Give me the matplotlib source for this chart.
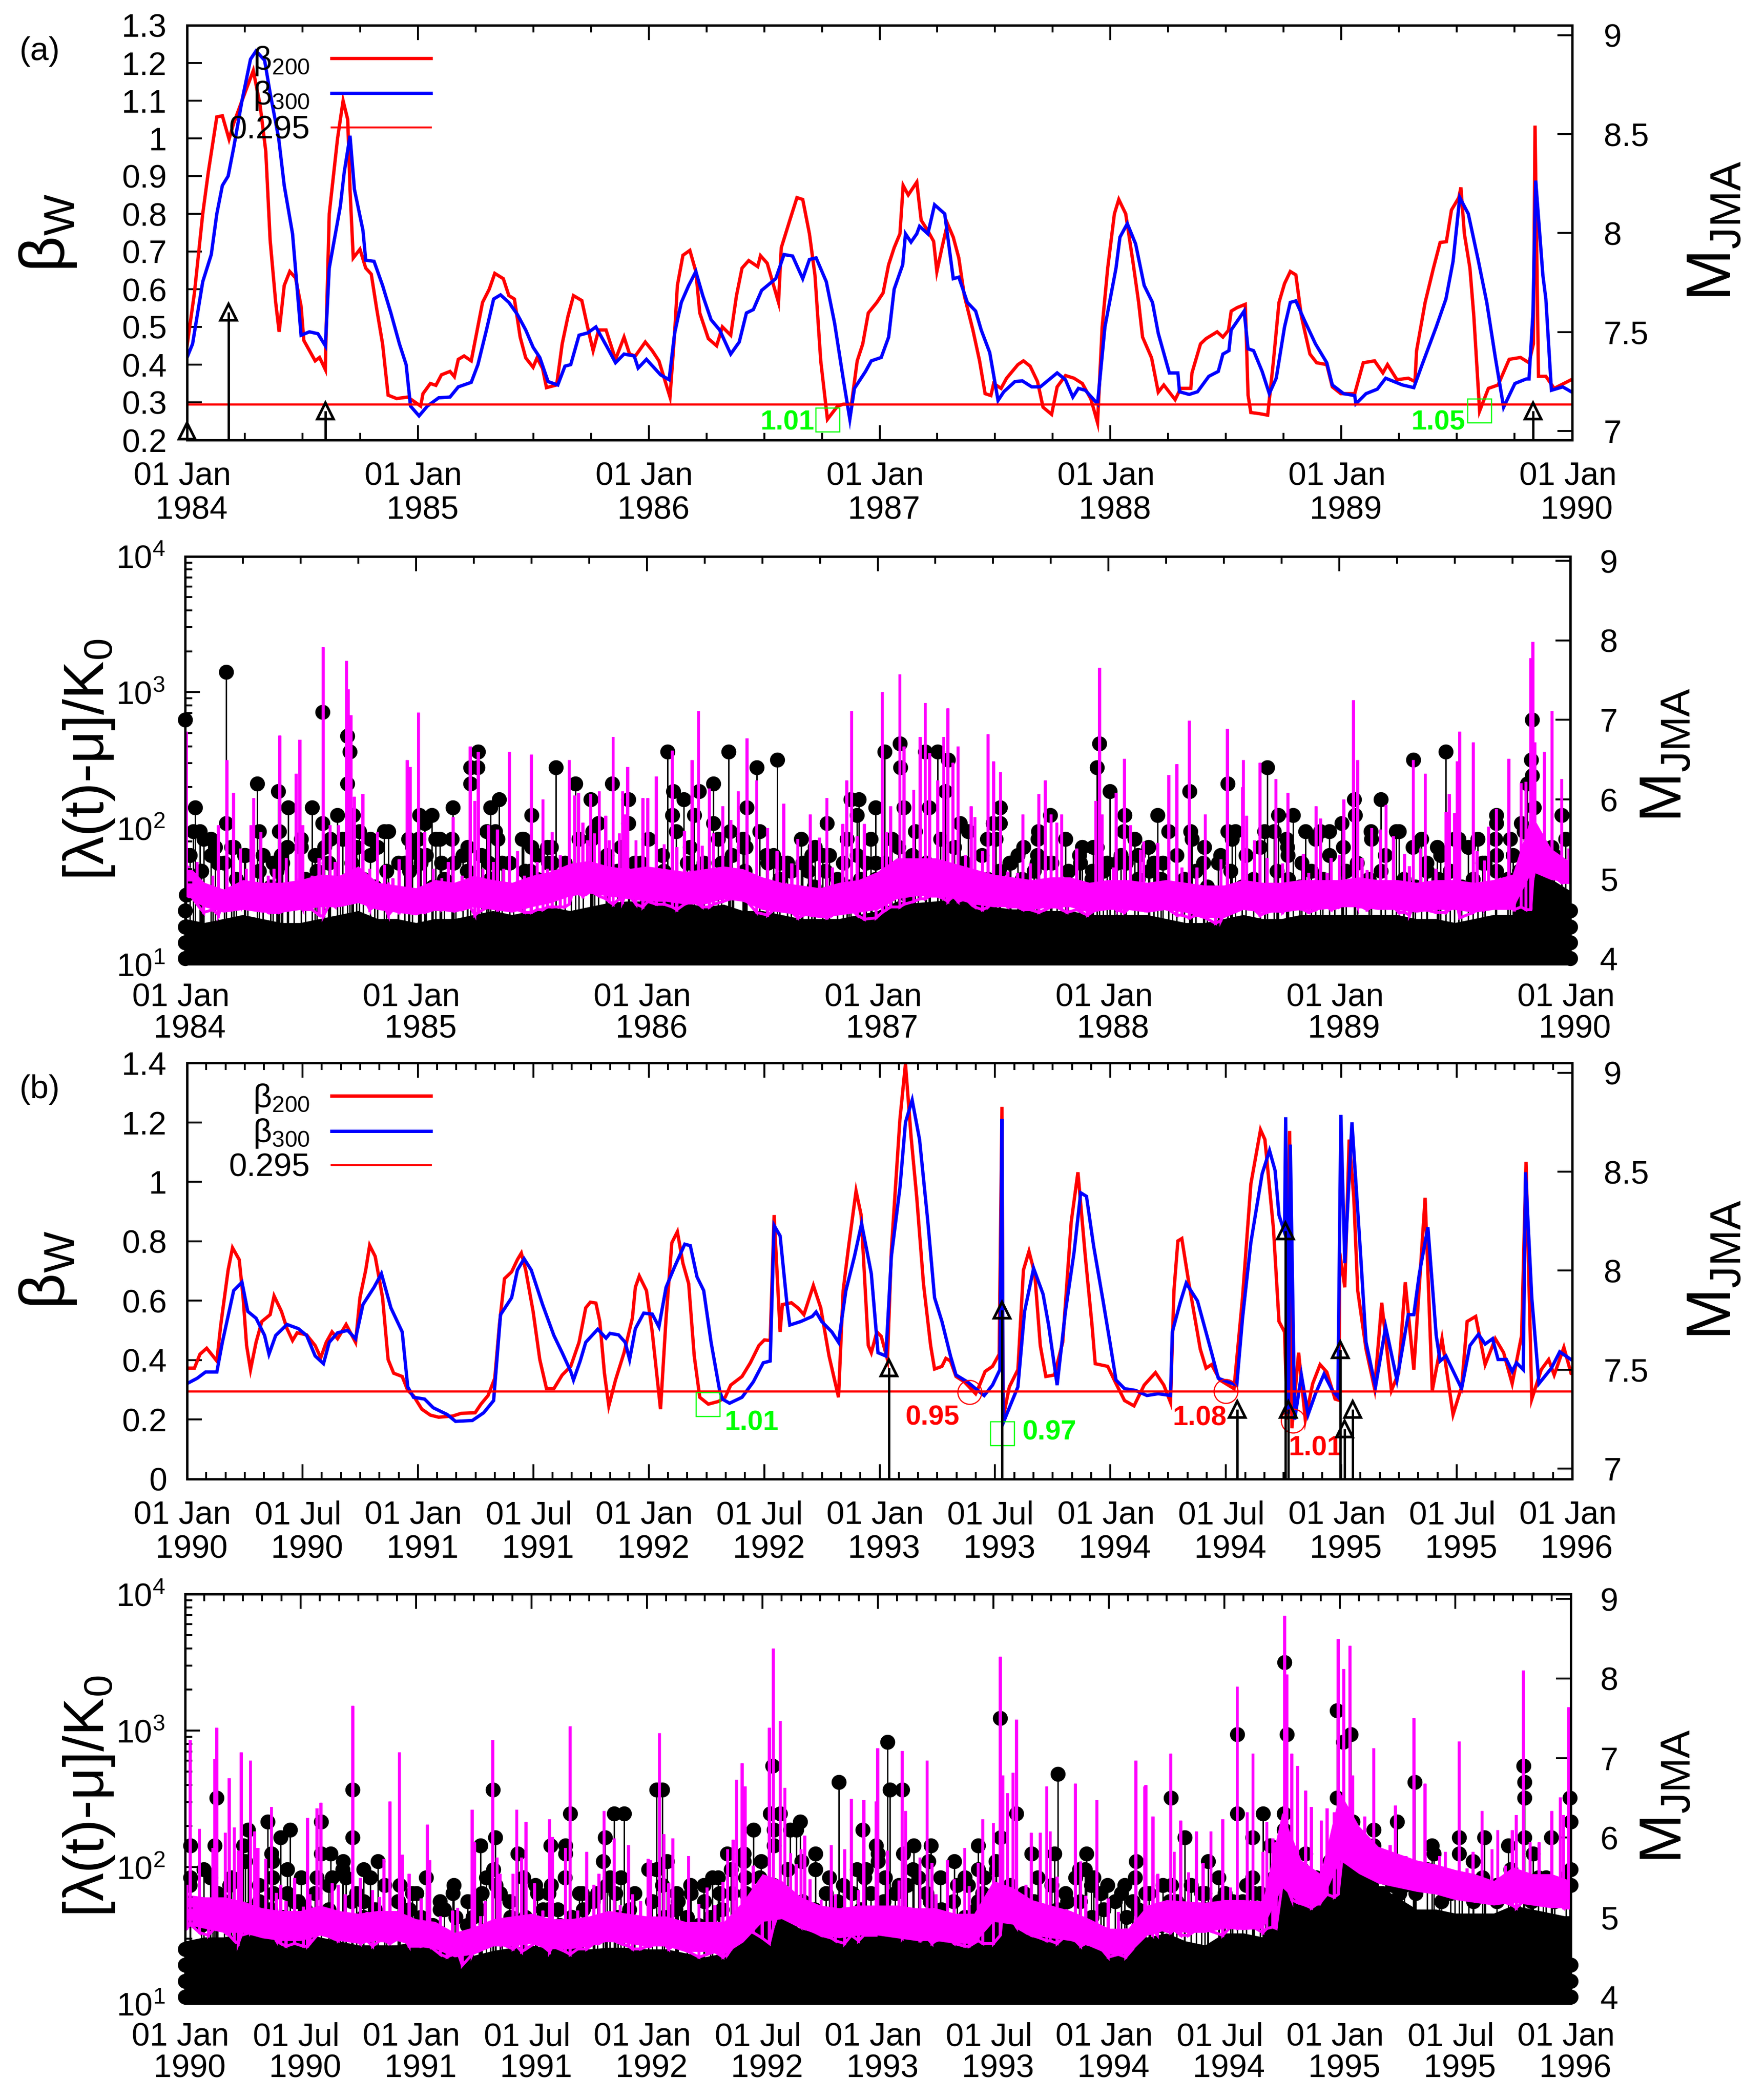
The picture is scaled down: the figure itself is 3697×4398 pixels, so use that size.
import numpy as np
import matplotlib
matplotlib.use("Agg")
import matplotlib.pyplot as plt
from matplotlib.lines import Line2D
from matplotlib.ticker import NullFormatter, LogLocator

plt.rcParams['font.family'] = ['Liberation Sans', 'DejaVu Sans']
plt.rcParams['mathtext.fontset'] = 'custom'
plt.rcParams['mathtext.rm'] = 'Liberation Sans'
plt.rcParams['mathtext.it'] = 'Liberation Sans:italic'
plt.rcParams['mathtext.bf'] = 'Liberation Sans:bold'
plt.rcParams['mathtext.default'] = 'rm'

RED, BLUE, MAGENTA, GREEN = '#ff0000', '#0000ff', '#ff00ff', '#00ff00'
THRESHOLD = 0.295

# beta series: (years since start of the panel, beta)
a_red = [(0,.45),(.032,.59),(.068,.8),(.092,.91),(.129,1.057),(.153,1.06),(.182,.998),(.202,1.04),(.238,1.1),(.287,1.18),(.316,1.09),(.341,.966),(.36,.73),(.384,.565),(.399,.487),(.421,.61),(.445,.647),(.47,.63),(.494,.555),(.506,.464),(.555,.41),(.574,.419),(.599,.387),(.601,.45),(.616,.8),(.652,1.0),(.676,1.1),(.696,1.05),(.706,.865),(.72,.683),(.749,.706),(.774,.656),(.798,.64),(.822,.546),(.847,.455),(.871,.319),(.908,.31),(.956,.314),(1.012,.29),(1.022,.323),(1.054,.35),(1.078,.345),(1.102,.373),(1.139,.382),(1.158,.368),(1.175,.414),(1.2,.423),(1.231,.41),(1.248,.464),(1.28,.565),(1.309,.6),(1.333,.642),(1.37,.628),(1.394,.583),(1.418,.574),(1.443,.473),(1.467,.418),(1.499,.393),(1.516,.418),(1.54,.39),(1.557,.339),(1.601,.346),(1.625,.455),(1.65,.528),(1.674,.583),(1.71,.57),(1.735,.5),(1.759,.437),(1.783,.492),(1.815,.492),(1.856,.414),(1.893,.473),(1.917,.428),(1.942,.423),(1.985,.46),(2.015,.437),(2.044,.41),(2.092,.314),(2.112,.483),(2.124,.61),(2.148,.69),(2.178,.703),(2.204,.647),(2.221,.537),(2.258,.469),(2.294,.45),(2.319,.5),(2.355,.478),(2.38,.583),(2.404,.656),(2.433,.676),(2.472,.66),(2.484,.689),(2.513,.669),(2.562,.565),(2.574,.71),(2.611,.783),(2.642,.843),(2.667,.838),(2.696,.747),(2.72,.637),(2.745,.41),(2.774,.255),(2.818,.29),(2.842,.295),(2.878,.295),(2.903,.41),(2.927,.455),(2.951,.537),(2.988,.565),
(3.015,.59),(3.039,.665),(3.063,.71),(3.088,.747),(3.102,.875),(3.124,.85),(3.161,.884),(3.18,.783),(3.209,.755),(3.234,.727),(3.248,.647),(3.27,.71),(3.294,.774),(3.319,.738),(3.343,.683),(3.367,.583),(3.404,.492),(3.433,.41),(3.457,.323),(3.482,.318),(3.494,.35),(3.526,.337),(3.55,.364),(3.599,.4),(3.623,.41),(3.652,.396),(3.684,.355),(3.708,.287),(3.745,.268),(3.769,.341),(3.805,.371),(3.842,.364),(3.878,.35),(3.915,.309),(3.944,.246),(3.964,.5),(3.988,.656),(4.017,.8),(4.036,.838),(4.066,.8),(4.097,.674),(4.122,.565),(4.139,.473),(4.178,.418),(4.207,.327),(4.231,.346),(4.28,.307),(4.304,.337),(4.348,.337),(4.353,.378),(4.39,.455),(4.414,.469),(4.462,.487),(4.487,.473),(4.511,.491),(4.523,.542),(4.548,.551),(4.584,.56),(4.596,.319),(4.608,.273),(4.645,.27),(4.681,.266),(4.706,.41),(4.73,.565),(4.754,.615),(4.779,.647),(4.803,.638),(4.827,.528),(4.864,.428),(4.893,.405),(4.937,.4),(4.961,.341),(4.998,.323),(5.058,.323),(5.095,.405),(5.144,.41),(5.18,.378),(5.2,.4),(5.241,.36),(5.29,.364),(5.319,.355),(5.326,.437),(5.363,.565),(5.399,.656),(5.428,.724),(5.455,.726),(5.477,.81),(5.509,.843),(5.518,.87),(5.533,.747),(5.557,.656),(5.574,.528),(5.599,.277),(5.637,.337),(5.679,.346),(5.727,.414),(5.776,.419),(5.813,.405),(5.832,.455),(5.839,1.034),(5.854,.369),(5.886,.369),(5.922,.337),(5.996,.36)]
a_blue = [(0,.419),(.024,.455),(.068,.62),(.105,.692),(.129,.8),(.153,.875),(.178,.9),(.202,.975),(.238,1.1),(.275,1.21),(.299,1.232),(.336,1.207),(.36,1.12),(.397,1.0),(.421,.875),(.457,.747),(.482,.565),(.494,.478),(.53,.487),(.567,.482),(.599,.45),(.616,.656),(.664,.82),(.681,.911),(.706,1.007),(.725,.865),(.762,.756),(.774,.677),(.81,.674),(.847,.61),(.883,.537),(.92,.455),(.949,.4),(.968,.29),(1.005,.264),(1.041,.29),(1.09,.312),(1.139,.314),(1.175,.341),(1.231,.353),(1.26,.4),(1.297,.492),(1.328,.574),(1.358,.585),(1.394,.565),(1.431,.533),(1.467,.492),(1.499,.446),(1.528,.419),(1.564,.355),(1.606,.346),(1.637,.396),(1.662,.4),(1.698,.478),(1.735,.484),(1.771,.5),(1.82,.446),(1.856,.405),(1.893,.428),(1.937,.423),(1.954,.391),(1.99,.414),(2.051,.373),(2.088,.36),(2.112,.483),(2.141,.565),(2.173,.61),(2.204,.647),(2.234,.583),(2.27,.519),(2.307,.492),(2.355,.428),(2.392,.46),(2.423,.537),(2.453,.546),(2.489,.597),(2.55,.628),(2.586,.692),(2.623,.688),(2.667,.628),(2.696,.679),(2.725,.683),(2.769,.62),(2.805,.51),(2.842,.364),(2.871,.255),(2.891,.337),(2.939,.382),(2.964,.41),(3.007,.419),
(3.039,.473),(3.063,.6),(3.1,.665),(3.112,.747),(3.136,.725),(3.161,.747),(3.173,.767),(3.209,.747),(3.238,.824),(3.282,.8),(3.319,.628),(3.343,.632),(3.38,.565),(3.416,.542),(3.44,.492),(3.477,.432),(3.513,.305),(3.538,.328),(3.586,.355),(3.618,.357),(3.659,.341),(3.696,.341),(3.769,.378),(3.805,.36),(3.837,.314),(3.861,.337),(3.891,.332),(3.944,.296),(3.976,.5),(4.024,.656),(4.041,.738),(4.073,.774),(4.109,.72),(4.146,.61),(4.182,.565),(4.207,.483),(4.255,.378),(4.292,.378),(4.299,.328),(4.341,.321),(4.377,.328),(4.426,.369),(4.467,.382),(4.487,.428),(4.513,.437),(4.523,.492),(4.579,.542),(4.596,.442),(4.62,.437),(4.657,.382),(4.688,.323),(4.718,.364),(4.754,.5),(4.779,.565),(4.803,.569),(4.839,.519),(4.888,.455),(4.937,.405),(4.961,.346),(5.01,.323),(5.058,.318),(5.063,.296),(5.107,.323),(5.156,.335),(5.192,.364),(5.265,.346),(5.314,.339),(5.35,.4),(5.411,.5),(5.453,.574),(5.484,.674),(5.513,.843),(5.55,.8),(5.594,.674),(5.63,.565),(5.667,.419),(5.703,.287),(5.752,.35),(5.801,.362),(5.813,.362),(5.83,.536),(5.842,.888),(5.873,.637),(5.886,.574),(5.91,.332),(5.959,.341),(5.996,.328)]
b_red = [(0,.373),(.032,.373),(.056,.42),(.085,.44),(.112,.414),(.129,.397),(.146,.518),(.178,.703),(.197,.778),(.226,.738),(.243,.61),(.258,.449),(.275,.368),(.299,.46),(.324,.53),(.36,.553),(.377,.616),(.409,.564),(.433,.506),(.457,.466),(.477,.492),(.518,.485),(.555,.449),(.579,.408),(.603,.46),(.628,.495),(.652,.472),(.689,.52),(.73,.46),(.749,.61),(.774,.703),(.791,.786),(.815,.749),(.847,.61),(.871,.402),(.895,.356),(.932,.345),(.956,.298),(.981,.28),(1.017,.235),(1.054,.215),(1.09,.208),(1.151,.212),(1.187,.221),(1.248,.223),(1.273,.252),(1.304,.281),(1.333,.339),(1.353,.518),(1.375,.674),(1.406,.697),(1.431,.738),(1.448,.76),(1.467,.703),(1.499,.564),(1.528,.402),(1.557,.304),(1.589,.304),(1.625,.35),(1.662,.379),(1.698,.46),(1.727,.576),(1.747,.595),(1.771,.592),(1.788,.53),(1.808,.356),(1.827,.246),(1.856,.333),(1.893,.425),(1.929,.541),(1.942,.645),(1.959,.683),(1.99,.634),(2.015,.495),(2.051,.235),(2.075,.541),(2.1,.795),(2.124,.832),(2.148,.726),(2.173,.657),(2.197,.414),(2.221,.275),(2.258,.252),(2.302,.261),(2.331,.275),(2.355,.316),(2.404,.345),(2.44,.391),(2.477,.449),(2.501,.468),(2.526,.466),(2.543,.888),(2.569,.495),(2.579,.587),(2.618,.593),(2.647,.575),(2.672,.553),(2.713,.651),(2.745,.576),(2.781,.414),(2.805,.333),(2.822,.275),(2.842,.634),(2.866,.784),(2.898,.969),(2.92,.888),(2.951,.449),(2.964,.425),(2.988,.495),(3.007,.48),
(3.034,.402),(3.051,.772),(3.088,1.21),(3.112,1.397),(3.136,1.154),(3.161,.946),(3.19,.657),(3.221,.449),(3.238,.37),(3.27,.379),(3.287,.406),(3.307,.397),(3.331,.345),(3.367,.327),(3.416,.287),(3.433,.316),(3.457,.362),(3.489,.379),(3.518,.42),(3.53,1.252),(3.535,.206),(3.562,.31),(3.599,.368),(3.623,.703),(3.647,.766),(3.672,.691),(3.696,.449),(3.72,.345),(3.757,.35),(3.793,.46),(3.83,.865),(3.859,1.032),(3.891,.749),(3.92,.518),(3.934,.388),(3.988,.379),(4.024,.321),(4.061,.264),(4.102,.246),(4.146,.316),(4.195,.358),(4.231,.316),(4.26,.258),(4.275,.634),(4.292,.801),(4.309,.809),(4.34,.657),(4.389,.437),(4.414,.373),(4.438,.385),(4.474,.333),(4.535,.304),(4.572,.61),(4.608,.992),(4.65,1.175),(4.669,1.142),(4.706,.842),(4.73,.53),(4.754,.495),(4.766,.2),(4.776,1.171),(4.786,.171),(4.815,.425),(4.844,.2),(4.876,.321),(4.908,.385),(4.937,.36),(4.973,.269),(4.99,.265),(4.993,.761),(5.015,.645),(5.034,1.142),(5.054,.946),(5.071,.634),(5.107,.437),(5.144,.304),(5.175,.593),(5.217,.298),(5.248,.356),(5.277,.662),(5.314,.368),(5.363,.946),(5.394,.298),(5.436,.472),(5.484,.217),(5.521,.31),(5.545,.53),(5.582,.547),(5.623,.385),(5.667,.472),(5.703,.425),(5.74,.321),(5.781,.483),(5.8,1.067),(5.825,.269),(5.866,.368),(5.898,.402),(5.922,.35),(5.964,.443),(5.995,.356)]
b_blue = [(0,.321),(.044,.339),(.08,.36),(.129,.36),(.153,.46),(.202,.634),(.238,.662),(.263,.564),(.299,.541),(.336,.483),(.355,.42),(.384,.483),(.433,.52),(.482,.506),(.518,.483),(.555,.414),(.591,.388),(.616,.46),(.652,.492),(.696,.5),(.73,.472),(.762,.587),(.81,.645),(.842,.691),(.883,.576),(.932,.495),(.956,.31),(.981,.275),(1.029,.269),(1.066,.24),(1.127,.217),(1.163,.194),(1.236,.197),(1.285,.223),(1.328,.264),(1.358,.553),(1.406,.61),(1.431,.703),(1.46,.741),(1.491,.703),(1.54,.587),(1.589,.483),(1.625,.425),(1.662,.362),(1.674,.333),(1.703,.397),(1.727,.46),(1.779,.504),(1.815,.474),(1.832,.49),(1.869,.485),(1.898,.46),(1.917,.402),(1.942,.506),(1.978,.558),(2.015,.555),(2.044,.512),(2.075,.645),(2.112,.714),(2.156,.79),(2.18,.785),(2.209,.68),(2.238,.634),(2.27,.46),(2.307,.298),(2.319,.269),(2.35,.255),(2.404,.275),(2.453,.327),(2.496,.391),(2.526,.397),(2.543,.853),(2.569,.818),(2.599,.587),(2.611,.518),(2.659,.53),(2.708,.547),(2.725,.562),(2.749,.53),(2.793,.495),(2.822,.46),(2.854,.634),(2.891,.749),(2.922,.859),(2.964,.691),(2.993,.425),
(3.027,.414),(3.051,.749),(3.088,.98),(3.112,1.2),(3.141,1.275),(3.173,1.142),(3.209,.865),(3.238,.61),(3.27,.53),(3.307,.414),(3.331,.35),(3.38,.327),(3.416,.304),(3.453,.281),(3.489,.316),(3.521,.368),(3.53,1.211),(3.535,.188),(3.562,.24),(3.599,.31),(3.628,.564),(3.667,.709),(3.708,.622),(3.732,.518),(3.769,.316),(3.805,.564),(3.842,.761),(3.871,.963),(3.896,.951),(3.927,.784),(3.968,.599),(4.0,.449),(4.024,.333),(4.061,.304),(4.109,.298),(4.158,.281),(4.207,.287),(4.26,.281),(4.268,.495),(4.304,.599),(4.328,.659),(4.377,.599),(4.438,.425),(4.467,.339),(4.547,.316),(4.572,.541),(4.608,.795),(4.657,1.027),(4.689,1.105),(4.713,1.038),(4.73,.888),(4.754,.83),(4.759,1.217),(4.771,.22),(4.779,1.125),(4.798,.2),(4.827,.35),(4.856,.217),(4.888,.287),(4.925,.353),(4.961,.298),(4.985,.277),(4.998,1.225),(5.015,.726),(5.046,1.2),(5.083,.761),(5.107,.46),(5.148,.31),(5.192,.512),(5.241,.333),(5.29,.553),(5.314,.553),(5.338,.691),(5.375,.847),(5.411,.483),(5.428,.397),(5.453,.414),(5.521,.304),(5.557,.449),(5.594,.487),(5.623,.454),(5.655,.472),(5.679,.402),(5.715,.402),(5.74,.362),(5.759,.391),(5.788,.368),(5.798,1.032),(5.825,.61),(5.856,.321),(5.91,.373),(5.946,.428),(5.995,.402)]

a_arrow_t = [1984.0,1984.18,1984.6,1989.83]
a_arrow_m = [7.0,7.6,7.1,7.1]
a_green_t = [1986.776,1989.60]
a_green_v = [.253,.277]
a_green_lab = ['1.01','1.05']
a_green_lt = [1986.6,1989.42]
a_green_lv = [.246,.246]
b_arrow_t = [1993.04,1993.53,1994.55,1994.757,1994.77,1994.995,1995.015,1995.05]
b_arrow_m = [7.51,7.8,7.3,8.2,7.3,7.6,7.2,7.3]
b_green_t = [1992.258,1993.533]
b_green_v = [.251,.153]
b_green_lab = ['1.01','0.97']
b_green_lt = [1992.445,1993.735]
b_green_lv = [.188,.157]
b_circ_t = [1993.39,1994.5,1994.79]
b_circ_v = [.292,.295,.196]
b_circ_lab = ['0.95','1.08','1.01']
b_circ_lt = [1993.23,1994.385,1994.888]
b_circ_lv = [.206,.204,.103]

# events: (years since start of the panel, magnitude)
a_events = [(0,7.0),(.178,7.6),(.044,5.9),(.036,5.6),(.065,5.6),(.071,5.1),(.005,4.8),(.076,4.8),(.112,5.5),(.131,5.4),(.112,5.3),(.178,5.7),(.21,5.4),(.257,5.3),(.336,5.3),(.312,6.2),(.402,6.1),(.407,5.6),(.415,5.3),(.396,5.1),(.446,5.9),(.502,5.4),(.549,5.9),(.596,7.1),(.596,5.7),(.604,5.4),(.659,5.8),(.628,5.5),(.702,6.8),(.714,6.6),(.702,6.2),(.727,5.8),(.754,5.6),(.801,5.5),(.833,5.4),(.88,5.6),(.967,5.5),(.951,5.2),
(1.014,5.8),(1.011,5.5),(1.014,5.3),(1.069,5.8),(1.038,5.7),(1.085,5.5),(1.109,5.2),(1.159,5.9),(1.156,5.5),(1.203,5.3),(1.235,6.2),(1.235,6.4),(1.267,6.4),(1.27,6.6),(1.306,5.6),(1.322,5.9),(1.361,6.0),(1.314,5.2),(1.353,5.5),(1.459,5.5),(1.5,5.8),(1.5,5.4),(1.495,5.1),(1.569,5.4),(1.59,5.2),(1.606,6.4),
(1.69,6.2),(1.757,6.0),(1.79,5.7),(1.85,6.2),(1.92,6.0),(1.92,5.7),(1.76,5.5),(2.09,6.6),(2.115,6.1),(2.16,6.0),(2.227,6.1),(2.11,5.8),(2.206,5.8),(2.288,6.2),(2.288,5.7),(2.354,6.6),(2.476,6.4),(2.564,6.5),(2.433,5.9),(2.36,5.6),(2.416,5.5),(2.42,5.4),(2.517,5.3),(2.575,5.2),(2.78,5.7),(2.884,6.0),(2.918,6.0),(2.91,5.8),(2.99,5.9),(3.03,6.6),(3.097,6.7),(3.098,6.4),(3.112,5.9),(3.205,6.6),(3.26,6.6),(3.304,6.5),(3.292,6.1),(3.223,5.9),(3.163,5.6),(3.357,5.7),(3.53,5.9),(3.53,5.7),(3.5,5.7),(3.606,5.3),(3.474,5.5),(3.748,5.8),(3.696,5.6),(3.693,5.5),(3.689,5.2),(2.99,5.2),(2.95,5.2),(2.866,5.5),(2.714,5.3),(2.762,5.3),(2.7,5.1),(2.99,5.0),(3.06,5.5),
(3.96,6.7),(3.95,6.4),(4.006,6.1),(4.07,5.8),(4.065,5.6),(4.213,5.8),(4.26,5.6),(4.35,6.1),(4.36,5.5),(4.515,6.2),(4.515,5.6),(4.55,5.6),(4.484,5.3),(4.687,6.4),(4.736,5.8),(4.8,5.8),(4.676,5.6),(4.77,5.5),(4.775,5.4),(4.853,5.6),(4.916,5.6),(4.957,5.6),(5.01,5.7),(5.064,6.0),(5.068,5.8),(5.137,5.6),(5.18,6.0),(5.245,5.6),(5.32,6.5),(5.355,5.5),(5.423,5.4),(5.46,6.6),(5.517,5.5),(5.6,5.5),(5.68,5.8),(5.68,5.7),(5.676,5.5),(5.752,5.3),(5.787,5.7),(5.835,7.0),(5.83,6.5),(5.835,6.3),(5.815,6.2),(5.842,5.9),(5.963,5.8),(3.885,5.4),(3.95,5.4),(4.196,5.2),(4.127,5.3),(4.037,5.2),(4.41,5.2),(3.93,5.1),
(0,4.0),(0,4.2),(0,4.4),(0,4.6),(6,4.0),(6,4.2),(6,4.4),(6,4.6)]
b_events = [(.022,5.9),(.022,5.5),(.137,6.5),(.128,5.9),(.11,5.5),(.272,6.1),(.253,5.9),(.357,6.2),(.413,6.0),(.454,6.1),(.374,5.8),(.378,5.7),(.589,6.2),(.588,5.8),(.571,5.5),(.63,5.8),(.684,5.7),(.637,5.5),(.696,5.5),(.726,6.6),(.726,6.0),(.772,5.6),(.834,5.7),(.772,5.2),(.93,5.4),(1.003,5.3),(1.16,5.3),(1.104,5.1),(1.243,5.2),(1.246,5.0),(1.279,5.9),(1.303,5.5),(1.332,6.6),(1.343,6.0),(1.334,5.6),(1.364,5.3),(1.441,5.8),(1.516,5.4),(1.41,5.0),(1.582,5.9),(1.647,5.9),(1.647,5.8),(1.667,6.3),(1.72,5.3),(1.858,6.3),(1.9,6.3),(1.818,6.0),(1.809,5.7),(1.838,5.5),(1.864,5.3),(2.042,6.6),(2.042,5.6),(1.785,5.3),(.193,5.4),(.443,5.3),(.489,5.2),(1.575,5.3),(1.614,5.1),(1.549,5.1),(.378,5.5),(1.674,5.0),
(2.066,6.6),(2.087,5.7),(2.19,5.3),(2.246,5.4),(2.283,5.5),(2.315,5.3),(2.347,5.8),(2.363,5.6),(2.419,5.8),(2.419,5.7),(2.425,5.5),(2.46,6.1),(2.494,5.7),(2.543,6.9),(2.533,6.3),(2.577,6.3),(2.55,6.1),(2.619,6.1),(2.663,6.2),(2.646,6.1),(2.55,5.9),(2.729,5.6),(2.83,6.7),(2.934,6.1),(2.992,5.9),(2.999,5.8),(2.999,5.7),(2.948,5.6),(2.943,5.5),(3.041,7.2),(3.051,6.6),(3.106,6.6),(3.109,5.8),(3.155,5.9),(3.229,5.9),(3.22,5.7),(3.434,5.9),(3.434,5.6),(3.376,5.5),(3.344,5.4),(3.461,5.5),(3.528,7.5),(3.6,6.3),(3.53,6.0),(3.51,5.7),(3.779,6.8),(3.666,5.8),(3.765,5.8),(3.903,5.8),(3.896,5.6),(3.855,5.5),(3.924,5.4),(3.965,5.3),(4.069,5.4),(4.104,5.2),(4.117,5.7),(4.159,5.3),(3.82,5.2),(2.135,5.2),(3.434,5.2),(2.888,5.3),
(4.761,8.2),(4.771,7.3),(4.556,7.3),(4.556,6.3),(4.667,6.3),(4.621,6.0),(4.698,5.9),(4.268,6.5),(4.328,6.0),(4.43,5.7),(4.271,5.4),(4.263,5.2),(4.758,6.3),(4.758,6.1),(4.988,7.6),(4.988,6.5),(5.014,7.2),(5.048,7.3),(4.997,6.0),(5.056,6.2),(5.147,6.1),(5.147,5.9),(5.247,6.2),(5.324,6.7),(5.398,5.9),(5.406,5.8),(5.517,6.0),(5.517,5.8),(5.625,6.0),(5.577,5.7),(5.73,5.9),(5.795,6.9),(5.799,6.7),(5.799,6.5),(5.799,6.0),(5.836,5.8),(5.915,6.0),(5.995,6.5),(6,6.2),(6,5.6),(6,5.4),(5.679,5.4),(4.817,5.5),(4.852,5.8),(4.894,5.4),(5.133,5.4),(5.184,5.3),(5.065,5.4),(5.09,5.2),(5.44,5.2),(5.892,5.5),(4.4,5.3),(4.621,5.5),(4.502,5.3),
(6,4.4),(6,4.2),(6,4.0),(0,4.0),(0,4.2),(0,4.4),(0,4.6)]
a_low_m = [4.9,5.1,4.8,5.2,5.0,4.8,5.1,4.9,5.2,4.8,5.0,5.1,4.8,4.9,5.2,5.0,4.9,5.1,4.8,5.1,5.2,4.9,5.0,4.8,
5.1,4.9,5.0,5.2,4.8,5.1,5.0,5.2,4.9,5.1,5.0,4.9,5.2,5.1,5.0,5.2,4.9,5.1,5.0,5.2,5.1,4.9,5.2,5.0,
5.1,4.9,5.2,5.0,5.1,5.2,4.9,5.1,5.0,4.9,5.0,4.8,4.9,5.1,4.8,5.0,4.9,5.1,5.0,5.2,4.9,5.0,5.1,5.2,
5.0,5.1,5.2,4.9,5.1,5.2,5.0,5.1,4.9,5.2,5.0,5.1,5.0,4.8,5.0,5.1,4.9,4.8,5.1,4.9,5.0,4.8,5.1,5.0,
4.9,5.1,5.0,4.8,5.1,4.9,5.0,5.1,4.8,5.0,4.9,5.1,5.0,5.1,4.9,5.0,5.2,5.1,5.0,5.1,5.2,5.3,5.3,5.1]
b_low_m = [5.0,4.9,5.1,5.2,5.0,5.1,5.2,5.1,5.0,5.2,5.1,5.0,5.1,4.9,5.2,5.0,5.1,4.9,5.2,5.1,5.0,4.9,5.1,5.0,
4.9,5.1,4.8,4.9,4.8,5.0,4.8,5.1,4.9,5.0,5.1,4.9,4.8,5.0,5.1,4.9,5.2,5.0,5.1,5.0,4.9,5.0,5.1,4.9,
5.0,5.1,4.9,5.0,5.1,5.2,5.1,5.3,5.2,5.0,5.1,4.9,5.2,5.3,5.4,5.5,5.2,5.1,5.2,5.0,5.1,5.2,5.0,5.1,
5.1,5.2,5.0,5.1,4.9,5.2,5.0,5.1,5.2,5.0,5.1,5.0,4.9,5.0,5.1,5.0,5.1,5.2,5.1,5.2,5.3,5.1,5.0,5.1,
5.0,5.1,5.0,5.2,5.1,5.0,5.1,5.3,5.4,5.4,5.3,5.5,5.4,5.3,5.4,5.2,5.3,5.2,5.4,5.3,5.2,5.3,5.2,5.3]
a_mid_m = [5.3,5.5,5.2,5.4,5.3,5.6,5.2,5.4,5.5,5.3,5.2,5.5,5.4,5.3,5.6,5.2,5.4,5.3,5.5,5.2,
5.4,5.3,5.6,5.2,5.5,5.3,5.4,5.2,5.5,5.6,5.3,5.4,5.2,5.5,5.3,5.6,5.4,5.2,5.5,5.3,
5.4,5.6,5.3,5.2,5.5,5.4,5.3,5.2,5.3,5.5,5.2,5.4,5.3,5.2,5.5,5.4,5.6,5.3,5.5,5.2,
5.4,5.3,5.2,5.5,5.3,5.4,5.2,5.3,5.5,5.4,5.2,5.3,5.6,5.4,5.2,5.5,5.3,5.4,5.6,5.3,
5.2,5.5,5.3,5.4,5.2,5.5,5.3,5.6,5.4,5.2,5.3,5.5,5.4,5.2,5.3,5.5,5.6,5.3,5.4,5.5]
b_mid_m = [5.4,5.6,5.3,5.5,5.7,5.4,5.3,5.6,5.5,5.3,5.4,5.6,5.3,5.5,5.4,5.2,5.3,5.5,5.2,5.4,
5.2,5.3,5.4,5.2,5.5,5.3,5.4,5.5,5.3,5.2,5.4,5.5,5.3,5.6,5.4,5.3,5.4,5.2,5.5,5.3,
5.3,5.5,5.4,5.6,5.7,5.8,5.5,5.4,5.6,5.3,5.5,5.4,5.6,5.3,5.5,5.7,5.4,5.3,5.6,5.4,
5.3,5.5,5.4,5.3,5.6,5.5,5.4,5.3,5.5,5.3,5.4,5.2,5.4,5.3,5.5,5.2,5.4,5.3,5.5,5.7,
5.6,5.5,5.7,5.5,5.6,5.4,5.5,5.3,5.4,5.6,5.4,5.5,5.3,5.5,5.4,5.6,5.3,5.5,5.4,5.5]
# monthly top of the saturated black area
a_mass = [4.5,4.45,4.5,4.55,4.5,4.45,4.45,4.5,4.55,4.6,4.5,4.5,
4.45,4.5,4.5,4.55,4.6,4.55,4.6,4.65,4.6,4.65,4.7,4.72,
4.72,4.72,4.7,4.65,4.68,4.6,4.6,4.55,4.5,4.5,4.5,4.55,
4.6,4.72,4.7,4.72,4.75,4.7,4.65,4.62,4.62,4.6,4.6,4.55,
4.55,4.55,4.55,4.5,4.45,4.45,4.5,4.55,4.5,4.5,4.55,4.55,
4.55,4.55,4.55,4.55,4.5,4.5,4.45,4.5,4.55,4.55,5.4,5.0,4.85]
b_mass = [4.7,4.75,4.75,4.8,4.75,4.8,4.85,4.75,4.7,4.65,4.65,4.65,
4.7,4.62,4.55,4.52,4.58,4.62,4.65,4.6,4.62,4.6,4.62,4.62,
4.6,4.6,4.55,4.5,4.55,4.75,5.3,5.0,4.85,4.8,4.75,4.8,
4.8,4.8,4.85,4.8,4.75,4.7,5.2,5.05,4.85,4.8,4.75,4.7,
4.65,4.7,4.75,4.8,4.7,4.65,4.8,4.8,4.75,6.0,5.5,5.2,
5.8,5.6,5.4,5.25,5.1,5.1,5.05,5.05,5.05,5.15,5.1,5.05,5.0]
# monthly limits (log10) of the solid magenta band
a_band_lo = [1.5,1.42,1.38,1.40,1.38,1.38,1.40,1.42,1.42,1.45,1.40,1.38,
1.36,1.40,1.38,1.42,1.40,1.38,1.42,1.45,1.50,1.52,1.50,1.48,
1.46,1.46,1.44,1.44,1.48,1.46,1.40,1.38,1.36,1.34,1.36,1.38,
1.40,1.48,1.50,1.50,1.48,1.44,1.42,1.42,1.40,1.42,1.42,1.38,
1.40,1.40,1.38,1.40,1.38,1.34,1.34,1.40,1.38,1.38,1.40,1.40,
1.42,1.42,1.40,1.40,1.38,1.40,1.40,1.38,1.40,1.40,1.68,1.62,1.6]
a_band_hi = [1.75,1.6,1.55,1.62,1.6,1.6,1.62,1.66,1.65,1.72,1.6,1.58,
1.56,1.62,1.6,1.65,1.62,1.6,1.65,1.68,1.74,1.76,1.72,1.7,
1.72,1.7,1.68,1.7,1.72,1.7,1.64,1.6,1.58,1.56,1.6,1.62,
1.68,1.78,1.78,1.78,1.74,1.7,1.66,1.64,1.62,1.64,1.64,1.6,
1.62,1.62,1.6,1.62,1.6,1.58,1.58,1.62,1.6,1.6,1.62,1.62,
1.62,1.64,1.62,1.62,1.6,1.62,1.62,1.6,1.62,1.66,2.1,1.85,1.75]
b_band_lo = [1.58,1.55,1.52,1.52,1.48,1.46,1.46,1.5,1.46,1.44,1.46,1.46,
1.42,1.40,1.34,1.36,1.42,1.42,1.44,1.4,1.4,1.42,1.46,1.44,
1.42,1.42,1.38,1.38,1.36,1.45,1.6,1.62,1.55,1.5,1.48,1.5,
1.5,1.48,1.46,1.46,1.44,1.44,1.6,1.58,1.5,1.48,1.46,1.42,
1.36,1.36,1.5,1.54,1.52,1.52,1.55,1.54,1.55,1.85,1.72,1.72,
2.05,1.95,1.88,1.85,1.82,1.8,1.76,1.74,1.72,1.74,1.72,1.7,1.7]
b_band_hi = [1.8,1.78,1.78,1.75,1.7,1.68,1.68,1.72,1.68,1.66,1.68,1.68,
1.62,1.6,1.52,1.56,1.62,1.64,1.66,1.62,1.62,1.64,1.68,1.66,
1.64,1.64,1.6,1.6,1.6,1.75,1.95,1.9,1.78,1.72,1.7,1.72,
1.72,1.72,1.7,1.7,1.66,1.66,1.9,1.85,1.76,1.72,1.68,1.62,
1.55,1.55,1.72,1.76,1.75,1.74,1.76,1.76,1.75,2.4,2.05,1.95,
2.55,2.3,2.15,2.1,2.05,2.02,1.98,1.95,1.9,2.0,1.95,1.95,1.9]

# intensity spikes: (years since start of the panel, log10 of the top, log10 of the level before the next spike)
a_lam = [(.005,2.71,1.55),(.052,1.75,1.44),(.08,1.56,1.38),(.144,2.02,1.36),(.181,2.5,1.5),(.21,2.26,1.5),(.24,1.85,1.42),(.285,2.02,1.45),(.297,2.22,1.48),(.328,1.97,1.42),(.41,2.68,1.38),(.438,1.78,1.4),(.481,2.4,1.42),(.497,2.65,1.44),(.51,2.02,1.4),(.58,1.78,1.36),(.598,3.33,1.35),(.628,2.02,1.45),(.665,2.02,1.5),(.699,3.23,1.5),(.707,3.02,1.55),(.719,2.83,1.6),(.733,2.23,1.55),(.77,2.25,1.5),(.833,1.97,1.44),(.864,1.73,1.42),(.9,1.63,1.4),(.927,1.77,1.38),(.962,2.5,1.42),(.975,2.45,1.44),
(1.011,2.85,1.4),(1.038,1.97,1.38),(1.112,1.63,1.4),(1.161,2.08,1.4),(1.235,2.6,1.42),(1.255,2.2,1.36),(1.27,2.56,1.38),(1.314,2.02,1.42),(1.353,1.99,1.4),(1.405,2.56,1.42),(1.44,1.83,1.4),(1.5,2.54,1.38),(1.55,2.21,1.4),(1.59,1.97,1.42),(1.625,1.8,1.42),(1.664,2.5,1.44),
(.12,1.65,1.4),(.265,1.7,1.42),(.36,1.65,1.38),(.385,1.7,1.38),(.55,1.65,1.4),(.65,1.75,1.42),(.8,1.7,1.4),(.88,1.6,1.36),(1.075,1.7,1.4),(1.14,1.75,1.44),(1.2,1.65,1.4),(1.29,1.7,1.4),(1.335,1.75,1.42),(1.38,1.7,1.42),(1.47,1.65,1.38),(1.525,1.75,1.4),(1.57,1.7,1.42),(1.645,1.7,1.42),
(1.687,2.24,1.58),(1.704,2.26,1.53),(1.723,2.04,1.5),(1.743,1.91,1.52),(1.757,2.25,1.54),(1.773,1.96,1.52),(1.794,2.27,1.5),(1.822,2.09,1.48),(1.837,1.91,1.46),(1.854,2.67,1.44),(1.881,1.96,1.48),(1.895,2.27,1.46),(1.905,2.1,1.5),(1.917,2.45,1.52),(1.953,1.91,1.44),(1.983,2.22,1.42),(2.004,2.22,1.46),(2.041,2.38,1.44),(2.075,1.88,1.44),(2.11,2.57,1.42),(2.13,1.86,1.4),(2.163,1.98,1.44),(2.196,2.5,1.46),(2.224,2.86,1.44),(2.24,1.87,1.42),(2.271,2.29,1.42),(2.288,1.96,1.44),(2.329,2.16,1.46),(2.364,2.06,1.48),(2.396,2.27,1.48),(2.434,2.66,1.46),(2.476,2.35,1.38),(2.523,2.0,1.36),(2.564,1.83,1.42),(2.593,2.18,1.4),(2.628,1.74,1.38),(2.654,1.92,1.34),(2.708,2.1,1.38),(2.748,1.93,1.36),(2.78,2.22,1.34),(2.804,1.71,1.36),(2.849,2.03,1.42),(2.866,2.35,1.44),(2.887,2.86,1.4),(2.911,1.94,1.36),(2.942,2.03,1.33),(2.993,1.56,1.34),
(3.02,3.0,1.38),(3.038,1.97,1.4),(3.056,2.16,1.42),(3.096,3.13,1.42),(3.114,2.6,1.44),(3.156,2.28,1.46),(3.184,2.67,1.48),(3.206,2.92,1.48),(3.225,2.55,1.5),(3.26,2.35,1.5),(3.286,2.67,1.48),(3.304,2.88,1.46),(3.326,2.48,1.5),(3.348,2.6,1.46),(3.38,1.8,1.48),(3.405,2.16,1.44),(3.421,2.08,1.42),(3.454,1.83,1.4),(3.478,2.69,1.42),(3.502,2.49,1.46),(3.532,2.41,1.46),(3.564,1.68,1.42),(3.606,1.67,1.42),(3.629,2.1,1.4),(3.661,1.74,1.4),(3.698,2.25,1.38),(3.726,2.35,1.4),(3.751,2.1,1.42),(3.776,2.04,1.42),(3.797,2.1,1.4),(3.82,1.57,1.38),
(3.862,1.85,1.4),(3.885,1.6,1.38),(3.909,1.6,1.36),(3.945,2.2,1.4),(3.961,3.18,1.42),(3.972,2.1,1.44),(4.02,1.71,1.44),(4.033,2.26,1.4),(4.069,2.51,1.38),(4.095,2.02,1.42),(4.138,1.84,1.42),(4.152,1.9,1.4),(4.213,1.89,1.42),(4.261,2.39,1.4),(4.296,2.47,1.36),(4.318,1.71,1.36),(4.35,2.79,1.34),(4.383,1.71,1.36),(4.419,2.1,1.34),(4.463,1.45,1.3),(4.487,1.77,1.32),(4.515,2.73,1.42),(4.58,2.3,1.42),(4.584,2.5,1.44),(4.598,2.09,1.44),(4.632,1.91,1.4),(4.656,2.48,1.36),(4.687,1.78,1.38),(4.725,2.36,1.4),(4.754,1.74,1.38),(4.777,2.26,1.42),(4.844,1.81,1.4),(4.867,1.67,1.38),(4.899,2.16,1.4),(4.918,2.07,1.42),(4.947,1.67,1.42),(4.964,1.78,1.4),(5.0,1.8,1.42),(5.019,2.21,1.44),(5.061,2.94,1.5),(5.079,2.5,1.42),(5.098,1.78,1.42),(5.12,1.69,1.4),(5.14,2.0,1.42),(5.178,1.99,1.42),(5.202,2.17,1.42),(5.234,1.94,1.42),(5.257,1.61,1.38),(5.282,1.81,1.38),(5.303,1.72,1.36),(5.32,2.5,1.42),(5.351,1.85,1.42),(5.372,2.4,1.4),(5.418,1.7,1.38),(5.462,2.12,1.38),(5.476,2.25,1.4),(5.499,2.11,1.42),(5.51,2.49,1.44),(5.521,2.71,1.34),(5.58,2.63,1.38),(5.596,1.83,1.4),(5.628,1.76,1.4),(5.646,2.01,1.44),(5.68,2.14,1.42),(5.734,2.51,1.42),(5.757,1.5,1.4),(5.787,2.33,1.42),(5.808,2.34,1.4),(5.829,3.25,1.4),(5.838,3.37,1.62),(5.847,2.63,1.7),(5.888,2.56,1.72),(5.921,2.86,1.65),(5.963,2.36,1.6),(5.994,1.85,1.6)]
b_lam = [(.007,1.87,1.55),(.022,2.93,1.58),(.062,2.28,1.52),(.101,1.74,1.5),(.12,2.14,1.54),(.128,2.79,1.56),(.137,3.02,1.58),(.174,2.25,1.52),(.191,2.65,1.5),(.213,2.29,1.46),(.23,2.12,1.44),(.243,2.84,1.5),(.283,2.78,1.52),(.301,2.26,1.56),(.315,2.14,1.55),(.349,2.06,1.5),(.374,2.44,1.52),(.395,1.81,1.46),(.414,1.87,1.44),(.437,1.75,1.42),(.474,1.92,1.44),(.512,1.71,1.42),(.53,2.36,1.42),(.541,1.8,1.44),(.571,2.43,1.5),(.588,2.47,1.52),(.637,1.88,1.48),(.663,1.87,1.46),(.693,1.8,1.5),(.726,3.18,1.5),(.759,1.92,1.44),(.788,1.67,1.46),(.812,1.83,1.42),(.842,1.78,1.46),(.861,2.06,1.46),(.887,2.48,1.44),(.928,2.84,1.48),(.941,2.09,1.5),(.97,1.95,1.42),
(1.022,1.77,1.42),(1.049,2.31,1.44),(1.059,2.05,1.42),(1.105,1.64,1.36),(1.134,1.54,1.34),(1.158,1.68,1.36),(1.18,1.7,1.38),(1.2,1.49,1.28),(1.243,2.42,1.36),(1.253,2.18,1.4),(1.279,1.64,1.4),(1.299,1.75,1.44),(1.332,2.93,1.5),(1.351,2.07,1.48),(1.364,1.95,1.44),(1.42,1.95,1.4),(1.436,2.42,1.42),(1.457,2.07,1.38),(1.476,2.33,1.4),(1.513,1.88,1.44),(1.549,1.68,1.42),(1.578,2.35,1.38),(1.591,2.22,1.42),(1.647,2.14,1.38),(1.667,3.03,1.36),(1.7,1.68,1.4),(1.739,2.11,1.4),(1.77,1.87,1.44),(1.792,1.95,1.44),(1.814,2.41,1.46),(1.858,2.21,1.46),(1.884,1.72,1.44),(1.92,2.16,1.42),(1.937,1.8,1.4),(1.972,1.75,1.4),
(2.005,2.06,1.42),(2.016,2.05,1.42),(2.054,2.98,1.46),(2.073,2.24,1.44),(2.094,1.88,1.4),(2.112,2.21,1.42),(2.18,2.08,1.38),(2.225,1.73,1.34),(2.26,1.85,1.36),(2.294,1.72,1.38),(2.329,1.89,1.34),(2.349,2.13,1.36),(2.373,2.2,1.42),(2.388,2.64,1.46),(2.412,2.76,1.5),(2.425,2.59,1.54),(2.46,2.01,1.52),(2.499,1.88,1.48),(2.53,3.02,1.44),(2.547,3.6,1.56),(2.577,3.07,1.7),(2.597,2.58,1.7),(2.622,2.1,1.66),(2.646,2.02,1.6),(2.667,2.13,1.56),(2.683,2.23,1.55),(2.706,1.91,1.54),(2.754,1.76,1.5),(2.798,2.16,1.48),(2.816,1.8,1.46),(2.856,2.13,1.44),(2.885,2.5,1.5),(2.916,1.83,1.46),(2.939,2.49,1.5),(2.992,2.48,1.5),(2.999,2.87,1.54),
(3.041,2.12,1.52),(3.091,1.9,1.5),(3.105,2.85,1.48),(3.12,2.41,1.52),(3.182,2.07,1.46),(3.213,2.78,1.48),(3.234,2.03,1.44),(3.251,1.8,1.46),(3.301,2.05,1.48),(3.33,1.91,1.44),(3.376,2.14,1.42),(3.395,1.86,1.42),(3.434,2.03,1.46),(3.454,2.35,1.44),(3.5,2.32,1.44),(3.53,3.54,1.5),(3.541,2.67,1.7),(3.561,2.54,1.66),(3.585,2.69,1.6),(3.6,3.08,1.56),(3.641,1.87,1.52),(3.664,2.25,1.5),(3.703,2.25,1.48),(3.731,2.59,1.46),(3.746,2.26,1.46),(3.776,1.93,1.44),(3.816,1.69,1.5),(3.834,1.67,1.48),(3.855,2.61,1.46),(3.878,2.04,1.42),(3.9,1.79,1.44),(3.948,2.49,1.44),(3.997,1.77,1.34),
(4.041,1.67,1.36),(4.073,1.55,1.34),(4.104,1.58,1.4),(4.117,2.78,1.58),(4.156,2.59,1.52),(4.19,2.36,1.5),(4.21,1.94,1.5),(4.16,2.6,1.56),(4.191,2.37,1.54),(4.212,1.95,1.55),(4.268,2.83,1.52),(4.283,2.11,1.54),(4.311,2.34,1.5),(4.345,1.96,1.5),(4.379,2.26,1.54),(4.408,2.03,1.55),(4.442,2.26,1.53),(4.493,2.35,1.5),(4.527,1.85,1.56),(4.556,3.32,1.55),(4.599,2.4,1.58),(4.624,2.83,1.56),(4.667,2.11,1.52),(4.684,2.33,1.55),(4.71,2.21,1.56),(4.724,2.18,1.55),(4.761,3.84,2.0),(4.771,3.41,1.85),(4.792,2.83,1.76),(4.817,2.74,1.74),(4.852,2.56,1.72),(4.877,2.44,1.7),(4.92,2.34,1.75),(4.945,2.43,1.8),(4.976,2.4,1.78),(4.993,3.67,1.8),
(5.017,3.45,2.18),(5.044,3.62,2.1),(5.056,2.67,2.05),(5.108,2.37,2.0),(5.147,2.87,1.95),(5.184,2.12,1.94),(5.218,2.16,1.9),(5.241,2.45,1.88),(5.287,2.08,1.86),(5.321,3.09,1.85),(5.369,2.61,1.84),(5.398,2.01,1.84),(5.432,2.08,1.82),(5.457,2.11,1.82),(5.517,2.92,1.8),(5.551,1.99,1.8),(5.577,2.11,1.76),(5.616,2.41,1.76),(5.659,2.13,1.74),(5.684,2.27,1.74),(5.717,2.01,1.74),(5.747,2.27,1.72),(5.764,2.38,1.7),(5.795,3.44,1.75),(5.824,2.18,1.74),(5.863,2.18,1.74),(5.918,2.41,1.72),(5.955,2.51,1.72),(5.969,2.38,1.7),(5.991,3.17,1.7)]

a_year_labels = ['1984','1985','1986','1987','1988','1989','1990']
b_year_labels = ['1990','1990','1991','1991','1992','1992','1993','1993','1994','1994','1995','1995','1996']
a_beta_ticks = [.2,.3,.4,.5,.6,.7,.8,.9,1,1.1,1.2,1.3]
a_beta_labels = ['0.2','0.3','0.4','0.5','0.6','0.7','0.8','0.9','1','1.1','1.2','1.3']
b_beta_ticks = [0,.2,.4,.6,.8,1,1.2,1.4]
b_beta_labels = ['0','0.2','0.4','0.6','0.8','1','1.2','1.4']
mag1_ticks = [7,7.5,8,8.5,9]
mag1_labels = ['7','7.5','8','8.5','9']
mag2_ticks = [4,5,6,7,8,9]
mag2_labels = ['4','5','6','7','8','9']
lam_ticks = [1e1,1e2,1e3,1e4]
lam_labels = ['$10^{1}$','$10^{2}$','$10^{3}$','$10^{4}$']

W, H = 3697, 4398
DPI = 100
fig = plt.figure(figsize=(W/DPI, H/DPI), dpi=DPI, facecolor='white')
PT = 72/DPI
FS = 49

def mkax(l, t, r, b):
    return fig.add_axes([l/W, 1-b/H, (r-l)/W, (b-t)/H])

def style(ax, years, first, half, spacing, pad):
    for s in ax.spines.values():
        s.set_linewidth(5*PT)
    if half:
        majors = [first+0.5*i for i in range(13)]
        labels = [('01 Jan \n ' if i % 2 == 0 else '01 Jul \n ')+y for i, y in enumerate(years)]
        minors = [first+i/12 for i in range(73) if i % 6]
    else:
        majors = [first+i for i in range(7)]
        labels = ['01 Jan \n '+y for y in years]
        minors = [first+i/4 for i in range(25) if i % 4]
    ax.set_xlim(first, first+6)
    ax.set_xticks(majors)
    ax.set_xticklabels(labels, fontsize=FS, linespacing=spacing)
    ax.set_xticks(minors, minor=True)
    ax.tick_params(axis='x', which='major', direction='in', length=31*PT, width=4*PT, top=True, pad=pad)
    ax.tick_params(axis='x', which='minor', direction='in', length=15*PT, width=4*PT, top=True)

def right_axis(ax, lim, ticks, labels, pad):
    tw = ax.twinx()
    tw.set_ylim(*lim)
    tw.set_yticks(ticks)
    tw.set_yticklabels(labels, fontsize=FS)
    tw.tick_params(axis='y', which='major', direction='in', length=31*PT, width=4*PT, pad=pad*PT)
    for s in tw.spines.values():
        s.set_linewidth(5*PT)
    return tw

def legend(ax, anchor):
    h = [Line2D([], [], color=RED, lw=7*PT), Line2D([], [], color=BLUE, lw=7*PT), Line2D([], [], color=RED, lw=4*PT)]
    lab = [r'β$_{\mathrm{200}}$', r'β$_{\mathrm{300}}$', '0.295']
    ax.legend(h, lab, loc='upper left', bbox_to_anchor=anchor, frameon=False, markerfirst=False,
              fontsize=FS, handlelength=3.05, handletextpad=0.68, labelspacing=0.08, borderpad=0, borderaxespad=0)

def beta_panel(pos, ylim, mlim, ticks, labels, years, first, half, red, blue, at, am):
    ax = mkax(*pos)
    style(ax, years, first, half, 1.15, 32)
    rt, rv = zip(*red)
    bt, bv = zip(*blue)
    ax.plot(first+np.array(rt), rv, color=RED, lw=7*PT, solid_joinstyle='miter')
    ax.plot(first+np.array(bt), bv, color=BLUE, lw=7*PT, solid_joinstyle='miter')
    ax.axhline(THRESHOLD, color=RED, lw=4.5*PT)
    ax.set_ylim(*ylim)
    ax.set_yticks(ticks)
    ax.set_yticklabels(labels, fontsize=FS)
    ax.tick_params(axis='y', direction='in', length=31*PT, width=4*PT, pad=42*PT)
    tw = right_axis(ax, mlim, mag1_ticks, mag1_labels, 66)
    tw.vlines(at, mlim[0], am, color='k', lw=5*PT)
    tw.plot(at, am, '^', ms=34*PT, mfc='none', mec='k', mew=5.5*PT, ls='none', clip_on=False)
    return ax, tw

def comb(first, spikes):
    spikes = sorted(spikes)
    xs, ys = [], []
    for t, top, base in spikes:
        xs += [first+t, first+t, first+t]
        ys += [base, top, base]
    return np.array(xs), 10**np.array(ys)

def lam_panel(pos, mlim, years, first, half, events, low_m, mid_m, mass, lo, hi, spikes):
    ax = mkax(*pos)
    style(ax, years, first, half, 1.03, 28)
    ax.set_yscale('log')
    ax.set_ylim(10, 1e4)
    ax.set_yticks(lam_ticks)
    ax.set_yticklabels(lam_labels, fontsize=FS)
    ax.yaxis.set_minor_locator(LogLocator(base=10, subs=range(2, 10), numticks=12))
    ax.yaxis.set_minor_formatter(NullFormatter())
    ax.tick_params(axis='y', which='major', direction='in', length=31*PT, width=4*PT, pad=42*PT)
    ax.tick_params(axis='y', which='minor', direction='in', length=15*PT, width=4*PT, right=False)
    tw = right_axis(ax, mlim, mag2_ticks, mag2_labels, 62)
    mt = np.linspace(first, first+6, len(mass))
    tw.fill_between(mt, mlim[0], mass, color='k', lw=0)
    for row in (low_m, mid_m):
        rt = np.linspace(first+0.02, first+5.98, len(row))
        tw.vlines(rt, mlim[0], row, color='k', lw=3*PT)
        tw.plot(rt, row, 'o', color='k', ms=30*PT, ls='none')
    et, em = zip(*events)
    et = first+np.array(et)
    tw.vlines(et, mlim[0], em, color='k', lw=3*PT)
    tw.plot(et, em, 'o', color='k', ms=30*PT, ls='none', clip_on=False)
    ax.fill_between(mt, 10**np.array(lo), 10**np.array(hi), color=MAGENTA, lw=0)
    x, y = comb(first, spikes)
    ax.plot(x, y, color=MAGENTA, lw=6*PT, solid_joinstyle='miter')
    ax.set_xlim(first, first+6)
    ax.set_zorder(tw.get_zorder()+1)
    ax.patch.set_visible(False)
    return ax, tw

BIG = 94
def side_labels(left, lx, ly, rx, ry, lsize, rsize):
    fig.text(lx/W, 1-ly/H, left, rotation=90, ha='center', va='center', fontsize=lsize)
    fig.text(rx/W, 1-ry/H, r'M$_{\mathrm{JMA}}$', rotation=90, ha='center', va='center', fontsize=rsize)

def mark(ax, x, y, marker, color):
    ax.plot(x, y, marker, ms=50*PT, mfc='none', mec=color, mew=2.5*PT, ls='none')

def note(ax, x, y, labels, color):
    for a, b, c in zip(x, y, labels):
        ax.text(a, b, c, color=color, fontsize=42, fontweight='bold', ha='center', va='center')

ax1, tw1 = beta_panel((392, 53, 3295, 922), (.2, 1.3), (6.954, 9.05), a_beta_ticks, a_beta_labels, a_year_labels, 1984, False,
                      a_red, a_blue, a_arrow_t, a_arrow_m)
mark(ax1, a_green_t, a_green_v, 's', GREEN)
note(ax1, a_green_lt, a_green_lv, a_green_lab, GREEN)
legend(ax1, (0.03, 0.953))
side_labels(r'β$_{\mathrm{W}}$', 100, 488, 3593, 484, BIG, BIG)
fig.text(83/W, 1-108/H, '(a)', ha='center', va='center', fontsize=50)

lam_panel((388, 1165.5, 3291, 2020), (3.93, 9.057), a_year_labels, 1984, False, a_events, a_low_m, a_mid_m, a_mass,
          a_band_lo, a_band_hi, a_lam)
side_labels(r'[λ(t)-μ]/K$_{\mathrm{0}}$', 187, 1592, 3492, 1582, 86, 90)

ax2, tw2 = beta_panel((392, 2227, 3295, 3099), (0, 1.4), (6.947, 9.05), b_beta_ticks, b_beta_labels, b_year_labels, 1990, True,
                      b_red, b_blue, b_arrow_t, b_arrow_m)
mark(ax2, b_green_t, b_green_v, 's', GREEN)
note(ax2, b_green_lt, b_green_lv, b_green_lab, GREEN)
mark(ax2, b_circ_t, b_circ_v, 'o', RED)
note(ax2, b_circ_lt, b_circ_lv, b_circ_lab, RED)
legend(ax2, (0.03, 0.953))
side_labels(r'β$_{\mathrm{W}}$', 100, 2661, 3593, 2661, BIG, BIG)
fig.text(83/W, 1-2283/H, '(b)', ha='center', va='center', fontsize=50)

lam_panel((388, 3340, 3292, 4198), (3.916, 9.06), b_year_labels, 1990, True, b_events, b_low_m, b_mid_m, b_mass,
          b_band_lo, b_band_hi, b_lam)
side_labels(r'[λ(t)-μ]/K$_{\mathrm{0}}$', 187, 3764, 3492, 3764, 86, 90)

fig.savefig('out.png', dpi=DPI, facecolor='white')
